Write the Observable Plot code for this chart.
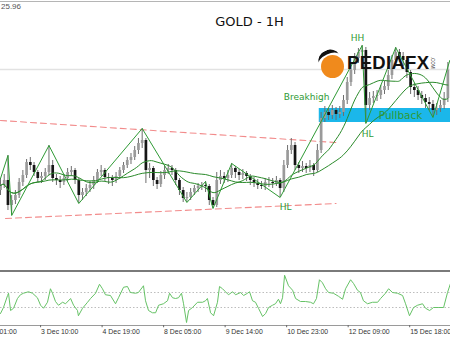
<!DOCTYPE html>
<html><head><meta charset="utf-8">
<script src="https://cdn.jsdelivr.net/npm/d3@7"></script>
<script src="https://cdn.jsdelivr.net/npm/@observablehq/plot@0.6"></script>
<style>
html,body{margin:0;padding:0;background:#fff;}
#wrap{position:relative;width:450px;height:338px;overflow:hidden;background:#fff;font-family:"Liberation Sans",Arial,sans-serif;}
#wrap svg{position:absolute;left:0;}
.abs{position:absolute;white-space:nowrap;}
</style></head><body><div id="wrap"></div>
<script>
// ---- Data (2-hour candles, x = hours from the first bar) ----
const firstOpen = 4210;
const closes = [4215,4220,4195,4200,4205,4218,4225,4238,4235,4228,4222,4224,4228,4235,4222,4220,4218,4222,4228,4230,
4220,4205,4208,4212,4215,4220,4228,4230,4223,4222,4220,4224,4230,4235,4240,4243,4250,4257,4260,4230,
4232,4220,4216,4225,4230,4232,4230,4220,4210,4202,4203,4208,4212,4214,4215,4214,4200,4195,4220,4224,
4222,4225,4232,4228,4225,4227,4224,4220,4217,4215,4214,4218,4218,4217,4220,4212,4235,4250,4255,4235,
4232,4234,4232,4235,4230,4250,4282,4288,4285,4290,4286,4288,4300,4318,4330,4342,4348,4350,4295,4302,
4304,4305,4310,4314,4325,4340,4348,4344,4340,4328,4313,4310,4305,4302,4298,4296,4290,4292,4295,4302,4330];
const highs = [4222,4226,4245,4205,4210,4222,4230,4241,4243,4238,4230,4228,4232,4255,4240,4226,4224,4226,4232,4234,
4232,4222,4212,4216,4219,4224,4231,4235,4232,4227,4225,4228,4233,4238,4243,4247,4254,4262,4272,4262,
4237,4234,4223,4229,4234,4236,4235,4232,4222,4213,4208,4212,4215,4217,4218,4219,4216,4203,4228,4230,
4228,4230,4237,4234,4231,4231,4229,4226,4223,4221,4219,4222,4223,4222,4224,4222,4240,4255,4262,4258,
4238,4239,4237,4240,4237,4256,4288,4294,4292,4295,4293,4294,4305,4323,4336,4347,4352,4355,4353,4308,
4309,4310,4315,4319,4330,4345,4353,4351,4348,4343,4330,4317,4314,4309,4306,4303,4300,4297,4300,4308,4338];
const lows = [4205,4212,4190,4185,4196,4202,4214,4222,4230,4224,4218,4217,4220,4225,4218,4215,4212,4215,4219,4224,
4216,4197,4200,4204,4208,4211,4217,4224,4219,4216,4214,4217,4221,4227,4232,4236,4240,4246,4252,4217,
4222,4214,4211,4213,4221,4226,4225,4215,4205,4198,4198,4200,4205,4208,4210,4208,4195,4192,4193,4216,
4217,4218,4222,4222,4220,4221,4219,4215,4213,4211,4211,4210,4213,4212,4214,4203,4208,4232,4246,4230,
4227,4228,4227,4228,4224,4228,4247,4278,4280,4281,4280,4282,4284,4296,4314,4326,4337,4340,4277,4290,
4297,4299,4301,4306,4310,4321,4336,4338,4334,4322,4306,4303,4300,4296,4292,4290,4283,4285,4288,4291,4298];

// zigzag pivots (hour, price)
const zigzagH = [0,4,6,26,42,76,100,110,114,124,150,194,196,212,232,241];
const zigzagP = [4222,4245,4185,4255,4197,4272,4198,4219,4192,4237,4203,4355,4277,4353,4283,4340];

// channel trend lines (hour, price)
const upperTrendH = [0,180];
const upperTrendP = [4280,4258];
const lowerTrendH = [2.7,180];
const lowerTrendP = [4182,4197];

// pullback zone and level line
const zoneH = [171,245];
const zoneP = [4278,4292];
const levelPrice = [4331];

// annotations
const noteText = ["HH","Breakhigh","HL","HL","Pullback"];
const noteH = [191.5,164.2,196.9,152.9,214.6];
const noteP = [4362,4303,4266,4193,4285];
const noteSize = [9,9,9,9,10.5];

// oscillator (hour, value)
const oscH = [0,1.6,3.8,4.3,5.4,7,9.1,10.7,12.3,15,17.2,19.8,21.5,23.1,25.2,26.8,27.9,29.5,31.1,33.3,34.9,37.6,39.2,41.3,41.8,44,46.7,48.3,51,53.1,54.7,56.3,59,61.7,63.3,66,68.1,69.7,72.4,74,76.7,77.8,79.4,81.5,83.2,84.8,87.4,89.6,90.7,92.3,93.9,95.5,97.1,98.2,99.8,100.9,103,105.7,108.4,110,111,112.7,114.3,116.4,117.5,119.1,120.7,122.3,124.5,126.1,128.8,130.4,132.5,133.6,135.2,136.8,138.4,140.6,142.2,143.8,145.9,147.5,149.1,150.2,151.3,152.4,154.5,156.7,158.3,160.9,163.6,166.3,167.9,169.5,171.1,172.7,174.4,176,178.6,181.3,183.5,185.1,187.8,189.4,191.5,193.1,194.7,196.9,199.6,202.3,203.9,206.5,208.2,210.3,213,215.7,217.3,219.4,221.6,223.7,226.4,228,230.2,232.3,235,237.7,239.8,241.4];
const oscV = [32,40,56,59,36,39,52,57,59,61,59,53,43,39,47,65,59,48,43,47,45,52,43,36,29,39,47,52,59,71,65,57,56,45,53,67,68,60,59,60,69,49,36,33,33,43,45,49,59,53,52,53,59,45,20,36,40,47,47,49,52,33,29,47,68,65,61,57,61,57,60,56,59,61,49,47,39,28,32,40,43,45,51,45,53,83,69,63,52,48,48,47,45,52,77,73,65,60,59,55,51,65,77,72,63,60,49,45,47,47,52,59,65,60,59,56,45,29,40,43,45,39,36,40,40,40,60,72];
const oscLevels = [60,40];

// time axis
const tickH = [-11.5,21.5,54.5,87.5,120.5,153.5,186.5,219.5];
const tickLabels = ["1 Dec 01:00","3 Dec 10:00","4 Dec 19:00","8 Dec 05:00","9 Dec 14:00","10 Dec 23:00","12 Dec 09:00","15 Dec 18:00"];

// ---- Build tables ----
const candles = closes.map((c,i)=>({h:i*2, open: i===0?firstOpen:closes[i-1], close:c, high:highs[i], low:lows[i]}));
const zigzag = zigzagH.map((h,i)=>({h, p:zigzagP[i]}));
const trends = [
  ...upperTrendH.map((h,i)=>({h,p:upperTrendP[i],k:"u"})),
  ...lowerTrendH.map((h,i)=>({h,p:lowerTrendP[i],k:"l"}))
];
const zone = [{h1:zoneH[0],h2:zoneH[1],p1:zoneP[0],p2:zoneP[1]}];
const notes = noteText.map((t,i)=>({t,h:noteH[i],p:noteP[i],s:noteSize[i]}));
const osc = oscH.map((h,i)=>({h,v:oscV[i]}));
const ticks = tickH.map((h,i)=>({h,label:tickLabels[i]}));

const X = {domain:[0,241.4], axis:null};
const green = "#2f9a35";

const main = Plot.plot({
  width:450, height:272, marginTop:40, marginBottom:52, marginLeft:0, marginRight:0,
  x: X, y:{domain:[4180,4360], axis:null},
  style:{overflow:"visible", background:"transparent"},
  marks:[
    Plot.ruleY(levelPrice, {stroke:"#e2e2e2", strokeWidth:1.5}),
    Plot.rect(zone, {x1:"h1", x2:"h2", y1:"p1", y2:"p2", fill:"#1bb7ea"}),
    Plot.line(trends, {x:"h", y:"p", z:"k", stroke:"#f28b8b", strokeWidth:1.1, strokeDasharray:"6,4"}),
    Plot.ruleX(candles, {x:"h", y1:"low", y2:"high", stroke:"#6e6e6e", strokeWidth:1}),
    Plot.ruleX(candles, {x:"h", y1:"open", y2:"close", stroke:d=>d.close>=d.open?"#9a9a9a":"#161616", strokeWidth:2.7}),
    Plot.lineY(candles, Plot.windowY({k:10, anchor:"end"}, {x:"h", y:"close", stroke:"#2a8a2a", strokeWidth:1, curve:"basis"})),
    Plot.lineY(candles, Plot.windowY({k:25, anchor:"end"}, {x:"h", y:"close", stroke:"#2a8a2a", strokeWidth:1, curve:"basis"})),
    Plot.line(zigzag, {x:"h", y:"p", stroke:green, strokeWidth:1}),
    Plot.text(notes, {x:"h", y:"p", text:"t", fontSize:d=>d.s, fill:green, fontFamily:"DejaVu Sans", lineAnchor:"middle"})
  ]
});
main.style.top = "0px";

const ind = Plot.plot({
  width:450, height:66, marginTop:0, marginBottom:13, marginLeft:0, marginRight:0,
  x: X, y:{domain:[16,86.67], axis:null},
  style:{overflow:"visible", background:"transparent"},
  marks:[
    Plot.ruleY(oscLevels, {stroke:"#bdbdbd", strokeDasharray:"1.5,2"}),
    Plot.ruleY([16], {stroke:"#9a9a9a"}),
    Plot.ruleX(ticks, {x:"h", y1:16, y2:13, stroke:"#666"}),
    Plot.line(osc, {x:"h", y:"v", stroke:"#66c266", strokeWidth:1}),
    Plot.text(ticks, {x:"h", y:()=>16, dy:6, dx:0.5, text:"label", textAnchor:"start", lineAnchor:"middle", fontSize:6.9, fill:"#333", fontFamily:"Liberation Sans"})
  ]
});
ind.style.top = "272px";

const wrap = document.getElementById("wrap");
wrap.appendChild(main);
wrap.appendChild(ind);
wrap.insertAdjacentHTML("beforeend", `
<div class="abs" style="left:0;top:1px;width:450px;height:1px;background:#b5b5b5"></div>
<div class="abs" style="left:0;top:270px;width:450px;height:2px;background:#7a7a7a"></div>
<div class="abs" style="left:1px;top:2px;font-size:8px;color:#555">25.96</div>
<div class="abs" style="left:0;top:14px;width:499px;text-align:center;font-family:'DejaVu Sans';font-size:13px;color:#111">GOLD - 1H</div>
<div class="abs" style="left:321px;top:55px;width:23px;height:23px;border-radius:50%;background:#f08a1c"></div>
<div class="abs" style="left:318px;top:50px;width:22px;height:14px;border-top:4px solid #111;border-radius:50% 50% 0 0;transform:rotate(-25deg)"></div>
<div class="abs" style="left:347px;top:52px;font-family:'Liberation Sans';font-weight:bold;font-size:18.5px;color:#111;letter-spacing:0.3px">PEDIAFX</div>
<div class="abs" style="left:427px;top:60px;font-size:4.5px;color:#333;transform:rotate(90deg)">.COM</div>
`);
</script></body></html>
